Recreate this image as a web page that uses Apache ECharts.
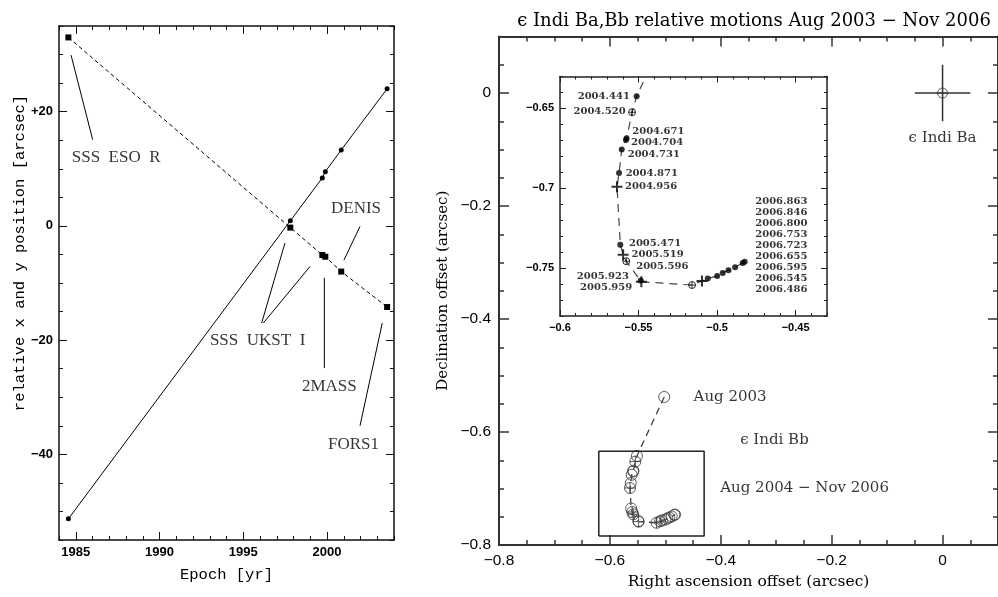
<!DOCTYPE html>
<html>
<head>
<meta charset="utf-8">
<title>eps Indi Ba,Bb</title>
<script src="https://cdn.jsdelivr.net/npm/echarts@6/dist/echarts.min.js"></script>
<style>html,body{margin:0;background:#fff;}</style>
</head>
<body>
<div id="main" style="width:998px;height:597px;"></div>
<script>
// ---- left panel: positions vs epoch ----
var epochs = [1984.56, 1997.81, 1999.72, 1999.90, 2000.85, 2003.59];
var relX = [-51.3, 0.9, 8.4, 9.5, 13.3, 24.0];
var relY = [33.0, -0.3, -5.1, -5.4, -8.0, -14.2];
var leftXTicks = [1985, 1990, 1995, 2000];
var leftYTicks = [-40, -20, 0, 20];

// survey labels (epoch, arcsec) and leader lines [x1, y1, x2, y2]
var surveyNames = ['SSS  ESO  R', 'DENIS', 'SSS  UKST  I', '2MASS', 'FORS1'];
var surveyAt = [[1984.76, 11.9], [2000.24, 3.0], [1993.01, -20.1], [1998.5, -28.1], [2000.06, -38.2]];
var leaders = [
  [1984.72, 29.9, 1986.01, 15.1],
  [2001.97, -0.1, 2001.01, -6.0],
  [1997.49, -3.0, 1996.10, -17.0],
  [1998.99, -7.1, 1996.20, -17.0],
  [1999.84, -9.1, 1999.84, -24.9],
  [2003.30, -17.0, 2001.97, -35.0]
];

// ---- right panel: Bb relative to Ba ----
var aug2003 = [-0.502, -0.538];
var bbEpoch = ['2004.441', '2004.520', '2004.671', '2004.704', '2004.731', '2004.871', '2004.956',
  '2005.471', '2005.519', '2005.596', '2005.923', '2005.959', '2006.486', '2006.545', '2006.595',
  '2006.655', '2006.723', '2006.753', '2006.800', '2006.846', '2006.863'];
var bbRA = [-0.5512, -0.5541, -0.5576, -0.5580, -0.5607, -0.5624, -0.5637,
  -0.5616, -0.5598, -0.5578, -0.5482, -0.5486, -0.5159, -0.5096, -0.5059,
  -0.4999, -0.4964, -0.4927, -0.4885, -0.4837, -0.4824];
var bbDec = [-0.6424, -0.6524, -0.6686, -0.6698, -0.6757, -0.6904, -0.6991,
  -0.7353, -0.7416, -0.7457, -0.7586, -0.7578, -0.7606, -0.7581, -0.7565,
  -0.7550, -0.7530, -0.7513, -0.7495, -0.7468, -0.7461];
var bbMark = ['dot', 'oplus', 'dot', 'dot', 'dot', 'dot', 'plus',
  'dot', 'plus', 'oplus', 'plus', 'dot', 'oplus', 'plus', 'dot',
  'dot', 'dot', 'dot', 'dot', 'dot', 'dot'];
var baPos = [0, 0];
var baErr = [0.05, 0.05];
var boxRA = [-0.62, -0.43];
var boxDec = [-0.784, -0.634];
var mainTicks = [-0.8, -0.6, -0.4, -0.2, 0];
var insetXTicks = [-0.6, -0.55, -0.5, -0.45];
var insetYTicks = [-0.75, -0.7, -0.65];

// inset epoch labels: left column anchored at right end, right column at left
var leftCol = { '2004.441': [-0.5555, -0.6424], '2004.520': [-0.5582, -0.6520],
  '2005.923': [-0.5561, -0.7554], '2005.959': [-0.5540, -0.7623] };
var rightOf = { '2004.671': [-0.5540, -0.6645], '2004.704': [-0.5548, -0.6713],
  '2004.731': [-0.5569, -0.6786], '2004.871': [-0.5582, -0.6906], '2004.956': [-0.5586, -0.6987],
  '2005.471': [-0.5561, -0.7345], '2005.519': [-0.5545, -0.7415], '2005.596': [-0.5515, -0.7488] };
var stackEpochs = ['2006.863', '2006.846', '2006.800', '2006.753', '2006.723', '2006.655', '2006.595', '2006.545', '2006.486'];
var stackRA = -0.4757, stackTop = -0.7085, stackStep = 0.00685;

var MINUS = '\u2212';
function fmtNum(v) { return v < 0 ? MINUS + (-v) : String(v); }
function fmtPlus(v) { return v > 0 ? '+' + v : fmtNum(v); }

var PLUS = 'path://M0,5 L10,5 M5,0 L5,10';
var OPLUS = 'path://M10,5 A5,5 0 1 1 0,5 A5,5 0 1 1 10,5 Z M0,5 L10,5 M5,0 L5,10';

// four framing axes per dimension: minor + major ticks on both sides
function frame(grid, dim, min, max, step, majors, fmt, st) {
  var sides = dim === 'x' ? ['bottom', 'top'] : ['left', 'right'];
  var out = [];
  sides.forEach(function (side, i) {
    out.push({
      type: 'value', gridIndex: grid, position: side, min: min, max: max, interval: step,
      axisLine: { show: true, onZero: false, lineStyle: { color: st.color, width: st.line } },
      axisTick: { show: true, inside: true, length: st.minor, lineStyle: { color: st.color, width: st.tick } },
      axisLabel: { show: false }, splitLine: { show: false }
    });
    out.push({
      type: 'value', gridIndex: grid, position: side, min: min, max: max,
      axisLine: { show: false, onZero: false },
      axisTick: { show: true, inside: true, length: st.major, customValues: majors,
        lineStyle: { color: st.color, width: st.tick } },
      axisLabel: { show: i === 0, customValues: majors, formatter: fmt, margin: st.margin,
        color: '#000', fontFamily: 'Liberation Sans', fontSize: st.font, fontWeight: st.weight },
      splitLine: { show: false }
    });
  });
  return out;
}

var leftStyle = { color: '#111', line: 1.5, tick: 1, minor: 4, major: 8, margin: 6, font: 13, weight: 'bold' };
var mainStyle = { color: '#333', line: 2, tick: 1.5, minor: 5, major: 10, margin: 8, font: 15.5, weight: 'normal' };
var insetStyle = { color: '#222', line: 1.5, tick: 1, minor: 3, major: 6, margin: 6, font: 11, weight: 'bold' };

var xAxes = [].concat(
  frame(0, 'x', 1984, 2004, 1, leftXTicks, String, leftStyle),
  frame(1, 'x', -0.8, 0.1, 0.05, mainTicks, fmtNum, mainStyle),
  frame(2, 'x', -0.6, -0.43, 0.01, insetXTicks, fmtNum, insetStyle)
);
var yAxes = [].concat(
  frame(0, 'y', -55, 35, 5, leftYTicks, fmtPlus, leftStyle),
  frame(1, 'y', -0.8, 0.1, 0.05, mainTicks, fmtNum, mainStyle),
  frame(2, 'y', -0.78, -0.63, 0.01, insetYTicks, fmtNum, insetStyle)
);
// axis titles
xAxes[1].name = 'Epoch [yr]';
xAxes[1].nameLocation = 'middle';
xAxes[1].nameGap = 27;
xAxes[1].nameTextStyle = { fontFamily: 'Liberation Mono', fontSize: 15.5, color: '#000' };
xAxes[5].name = 'Right ascension offset (arcsec)';
xAxes[5].nameLocation = 'middle';
xAxes[5].nameGap = 29;
xAxes[5].nameTextStyle = { fontFamily: 'DejaVu Serif', fontSize: 15.5, color: '#000' };
yAxes[5].name = 'Declination offset (arcsec)';
yAxes[5].nameLocation = 'middle';
yAxes[5].nameGap = 48;
yAxes[5].nameTextStyle = { fontFamily: 'DejaVu Serif', fontSize: 15, color: '#000' };

function zip(a, b) { return a.map(function (v, i) { return [v, b[i]]; }); }
function textItems(names, at, align) {
  return names.map(function (n, i) {
    return { name: n, value: at[i], label: { align: align } };
  });
}
function labelSeries(xi, data, font, size, weight) {
  return {
    type: 'scatter', xAxisIndex: xi, yAxisIndex: xi, symbolSize: 0, data: data, z: 5, silent: true,
    label: { show: true, position: 'inside', formatter: '{b}', verticalAlign: 'middle',
      color: '#000', fontFamily: font, fontSize: size, fontWeight: weight || 'normal' }
  };
}

var series = [];
// left panel
series.push({ type: 'line', xAxisIndex: 0, yAxisIndex: 0, data: zip(epochs, relX),
  symbol: 'circle', symbolSize: 5, itemStyle: { color: '#000' }, lineStyle: { color: '#000', width: 1 } });
series.push({ type: 'line', xAxisIndex: 0, yAxisIndex: 0, data: zip(epochs, relY),
  symbol: 'rect', symbolSize: 6, itemStyle: { color: '#000' }, lineStyle: { color: '#000', width: 1, type: [4, 3] } });
leaders.forEach(function (l) {
  series.push({ type: 'line', xAxisIndex: 0, yAxisIndex: 0, data: [[l[0], l[1]], [l[2], l[3]]],
    symbol: 'none', lineStyle: { color: '#000', width: 1 } });
});
series.push(labelSeries(0, textItems(surveyNames, surveyAt, 'left'), 'Liberation Serif', 17));

// right panel, main axes
var bbPath = [aug2003].concat(zip(bbRA, bbDec));
series.push({ type: 'line', xAxisIndex: 4, yAxisIndex: 4, data: bbPath, symbol: 'none',
  lineStyle: { color: '#444', width: 1.3, type: [7, 5] } });
series.push({ type: 'scatter', xAxisIndex: 4, yAxisIndex: 4,
  data: bbPath.map(function (p, i) {
    var m = i === 0 ? 'dot' : bbMark[i - 1];
    return { value: p, symbol: m === 'dot' ? 'circle' : OPLUS };
  }),
  symbolSize: 11, itemStyle: { color: 'rgba(0,0,0,0)', borderColor: '#333', borderWidth: 1 } });
series.push({ type: 'line', xAxisIndex: 4, yAxisIndex: 4, symbol: 'none',
  data: [[boxRA[0], boxDec[0]], [boxRA[1], boxDec[0]], [boxRA[1], boxDec[1]], [boxRA[0], boxDec[1]], [boxRA[0], boxDec[0]]],
  lineStyle: { color: '#222', width: 1.5 } });
series.push({ type: 'line', xAxisIndex: 4, yAxisIndex: 4, symbol: 'none',
  data: [[baPos[0] - baErr[0], baPos[1]], [baPos[0] + baErr[0], baPos[1]]], lineStyle: { color: '#333', width: 1.5 } });
series.push({ type: 'line', xAxisIndex: 4, yAxisIndex: 4, symbol: 'none',
  data: [[baPos[0], baPos[1] - baErr[1]], [baPos[0], baPos[1] + baErr[1]]], lineStyle: { color: '#333', width: 1.5 } });
series.push({ type: 'scatter', xAxisIndex: 4, yAxisIndex: 4, data: [baPos], symbol: OPLUS, symbolSize: 10,
  itemStyle: { color: 'rgba(0,0,0,0)', borderColor: '#333', borderWidth: 1 } });
series.push(labelSeries(4, textItems(['Aug 2003', '\u03f5 Indi Bb', 'Aug 2004 ' + MINUS + ' Nov 2006'],
  [[-0.449, -0.5375], [-0.365, -0.615], [-0.401, -0.70]], 'left'), 'DejaVu Serif', 15));
series.push(labelSeries(4, textItems(['\u03f5 Indi Ba'], [[0, -0.08]], 'center'), 'DejaVu Serif', 15));

// inset
series.push({ type: 'line', xAxisIndex: 8, yAxisIndex: 8, data: bbPath, symbol: 'none', clip: true,
  lineStyle: { color: '#444', width: 1.2, type: [8, 6] } });
series.push({ type: 'scatter', xAxisIndex: 8, yAxisIndex: 8,
  data: bbRA.map(function (x, i) {
    var m = bbMark[i];
    if (m === 'dot') return { value: [x, bbDec[i]], symbol: 'circle', symbolSize: 6,
      itemStyle: { color: '#000' } };
    if (m === 'plus') return { value: [x, bbDec[i]], symbol: PLUS, symbolSize: 11,
      itemStyle: { color: 'rgba(0,0,0,0)', borderColor: '#000', borderWidth: 2 } };
    return { value: [x, bbDec[i]], symbol: OPLUS, symbolSize: 7,
      itemStyle: { color: 'rgba(0,0,0,0)', borderColor: '#000', borderWidth: 1 } };
  }), z: 4 });
var insetText = [];
Object.keys(leftCol).forEach(function (k) {
  insetText.push({ name: k, value: leftCol[k], label: { align: 'right' } });
});
Object.keys(rightOf).forEach(function (k) {
  insetText.push({ name: k, value: rightOf[k], label: { align: 'left' } });
});
stackEpochs.forEach(function (k, i) {
  insetText.push({ name: k, value: [stackRA, stackTop - i * stackStep], label: { align: 'left' } });
});
series.push(labelSeries(8, insetText, 'DejaVu Serif', 10, 'bold'));

var chart = echarts.init(document.getElementById('main'));
chart.setOption({
  animation: false,
  backgroundColor: '#fff',
  title: {
    text: '\u03f5 Indi Ba,Bb relative motions Aug 2003 ' + MINUS + ' Nov 2006',
    left: 749, top: 7, textAlign: 'center',
    textStyle: { fontFamily: 'DejaVu Serif', fontSize: 18, fontWeight: 'normal', color: '#000' }
  },
  grid: [
    { left: 59, top: 26, width: 335, height: 514 },
    { left: 499, top: 36.5, width: 505, height: 508.5 },
    { left: 560, top: 76.5, width: 267, height: 239.5 }
  ],
  xAxis: xAxes,
  yAxis: yAxes,
  graphic: [{
    type: 'text', x: 20, y: 253, rotation: Math.PI / 2,
    style: { text: 'relative x and y position [arcsec]', fontFamily: 'Liberation Mono', fontSize: 15.5,
      fill: '#000', align: 'center', verticalAlign: 'middle' }
  }],
  series: series
});
</script>
</body>
</html>
